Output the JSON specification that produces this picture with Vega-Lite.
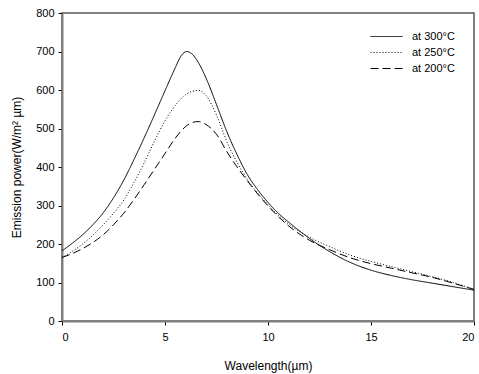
{
  "$schema": "https://vega.github.io/schema/vega-lite/v6.json",
  "width": 412,
  "height": 308,
  "autosize": "none",
  "padding": {"left": 62, "top": 13, "right": 5, "bottom": 53},
  "config": {
    "font": "Liberation Sans",
    "view": {"stroke": "#555555", "strokeWidth": 1.5},
    "axis": {"labelFont": "Liberation Sans", "titleFont": "Liberation Sans", "labelFontSize": 11, "titleFontSize": 12, "titleFontWeight": "normal", "labelColor": "#000000", "titleColor": "#000000", "domainColor": "#808080", "domainWidth": 2, "tickColor": "#000000", "tickSize": 4, "grid": false}
  },
  "data": {"values": [
    {"w": 0, "p": 182, "s": "at 300°C"}, {"w": 0.5, "p": 202, "s": "at 300°C"}, {"w": 1, "p": 224, "s": "at 300°C"}, {"w": 1.5, "p": 250, "s": "at 300°C"}, {"w": 2, "p": 281, "s": "at 300°C"}, {"w": 2.5, "p": 320, "s": "at 300°C"}, {"w": 3, "p": 366, "s": "at 300°C"}, {"w": 3.5, "p": 420, "s": "at 300°C"}, {"w": 4, "p": 477, "s": "at 300°C"}, {"w": 4.5, "p": 537, "s": "at 300°C"}, {"w": 5, "p": 598, "s": "at 300°C"}, {"w": 5.5, "p": 658, "s": "at 300°C"}, {"w": 5.8, "p": 690, "s": "at 300°C"}, {"w": 6.05, "p": 700, "s": "at 300°C"}, {"w": 6.3, "p": 694, "s": "at 300°C"}, {"w": 6.6, "p": 673, "s": "at 300°C"}, {"w": 7, "p": 630, "s": "at 300°C"}, {"w": 7.5, "p": 562, "s": "at 300°C"}, {"w": 8, "p": 492, "s": "at 300°C"}, {"w": 8.5, "p": 432, "s": "at 300°C"}, {"w": 9, "p": 380, "s": "at 300°C"}, {"w": 9.5, "p": 341, "s": "at 300°C"}, {"w": 10, "p": 308, "s": "at 300°C"}, {"w": 10.5, "p": 280, "s": "at 300°C"}, {"w": 11, "p": 257, "s": "at 300°C"}, {"w": 12, "p": 215, "s": "at 300°C"}, {"w": 13, "p": 180, "s": "at 300°C"}, {"w": 14, "p": 152, "s": "at 300°C"}, {"w": 15, "p": 132, "s": "at 300°C"}, {"w": 16, "p": 118, "s": "at 300°C"}, {"w": 17, "p": 107, "s": "at 300°C"}, {"w": 18, "p": 98, "s": "at 300°C"}, {"w": 19, "p": 89, "s": "at 300°C"}, {"w": 20, "p": 80, "s": "at 300°C"},
    {"w": 0, "p": 165, "s": "at 250°C"}, {"w": 0.5, "p": 181, "s": "at 250°C"}, {"w": 1, "p": 200, "s": "at 250°C"}, {"w": 1.5, "p": 223, "s": "at 250°C"}, {"w": 2, "p": 250, "s": "at 250°C"}, {"w": 2.5, "p": 280, "s": "at 250°C"}, {"w": 3, "p": 314, "s": "at 250°C"}, {"w": 3.5, "p": 360, "s": "at 250°C"}, {"w": 4, "p": 412, "s": "at 250°C"}, {"w": 4.5, "p": 468, "s": "at 250°C"}, {"w": 5, "p": 520, "s": "at 250°C"}, {"w": 5.5, "p": 560, "s": "at 250°C"}, {"w": 6, "p": 588, "s": "at 250°C"}, {"w": 6.35, "p": 597, "s": "at 250°C"}, {"w": 6.65, "p": 599, "s": "at 250°C"}, {"w": 7, "p": 585, "s": "at 250°C"}, {"w": 7.5, "p": 535, "s": "at 250°C"}, {"w": 8, "p": 466, "s": "at 250°C"}, {"w": 8.5, "p": 412, "s": "at 250°C"}, {"w": 9, "p": 367, "s": "at 250°C"}, {"w": 9.5, "p": 332, "s": "at 250°C"}, {"w": 10, "p": 302, "s": "at 250°C"}, {"w": 10.5, "p": 275, "s": "at 250°C"}, {"w": 11, "p": 252, "s": "at 250°C"}, {"w": 12, "p": 218, "s": "at 250°C"}, {"w": 13, "p": 193, "s": "at 250°C"}, {"w": 14, "p": 171, "s": "at 250°C"}, {"w": 15, "p": 155, "s": "at 250°C"}, {"w": 16, "p": 141, "s": "at 250°C"}, {"w": 17, "p": 128, "s": "at 250°C"}, {"w": 18, "p": 115, "s": "at 250°C"}, {"w": 19, "p": 100, "s": "at 250°C"}, {"w": 20, "p": 82, "s": "at 250°C"},
    {"w": 0, "p": 165, "s": "at 200°C"}, {"w": 0.5, "p": 175, "s": "at 200°C"}, {"w": 1, "p": 188, "s": "at 200°C"}, {"w": 1.5, "p": 204, "s": "at 200°C"}, {"w": 2, "p": 224, "s": "at 200°C"}, {"w": 2.5, "p": 250, "s": "at 200°C"}, {"w": 3, "p": 280, "s": "at 200°C"}, {"w": 3.5, "p": 316, "s": "at 200°C"}, {"w": 4, "p": 355, "s": "at 200°C"}, {"w": 4.5, "p": 395, "s": "at 200°C"}, {"w": 5, "p": 435, "s": "at 200°C"}, {"w": 5.5, "p": 475, "s": "at 200°C"}, {"w": 6, "p": 505, "s": "at 200°C"}, {"w": 6.3, "p": 515, "s": "at 200°C"}, {"w": 6.6, "p": 518, "s": "at 200°C"}, {"w": 7, "p": 510, "s": "at 200°C"}, {"w": 7.5, "p": 485, "s": "at 200°C"}, {"w": 8, "p": 440, "s": "at 200°C"}, {"w": 8.5, "p": 400, "s": "at 200°C"}, {"w": 9, "p": 364, "s": "at 200°C"}, {"w": 9.5, "p": 330, "s": "at 200°C"}, {"w": 10, "p": 299, "s": "at 200°C"}, {"w": 10.5, "p": 271, "s": "at 200°C"}, {"w": 11, "p": 247, "s": "at 200°C"}, {"w": 12, "p": 210, "s": "at 200°C"}, {"w": 13, "p": 185, "s": "at 200°C"}, {"w": 14, "p": 164, "s": "at 200°C"}, {"w": 15, "p": 149, "s": "at 200°C"}, {"w": 16, "p": 137, "s": "at 200°C"}, {"w": 17, "p": 125, "s": "at 200°C"}, {"w": 18, "p": 113, "s": "at 200°C"}, {"w": 19, "p": 98, "s": "at 200°C"}, {"w": 20, "p": 82, "s": "at 200°C"}
  ]},
  "mark": {"type": "line", "color": "#000000", "strokeWidth": 1, "interpolate": "monotone"},
  "encoding": {
    "x": {"field": "w", "type": "quantitative", "scale": {"domain": [0, 20], "nice": false}, "axis": {"values": [0, 5, 10, 15, 20], "title": "Wavelength(µm)", "titlePadding": 18, "labelPadding": 6}},
    "y": {"field": "p", "type": "quantitative", "scale": {"domain": [0, 800], "nice": false}, "axis": {"values": [0, 100, 200, 300, 400, 500, 600, 700, 800], "title": "Emission power(W/m² µm)", "titlePadding": 12, "labelPadding": 4}},
    "strokeDash": {"field": "s", "type": "nominal", "scale": {"domain": ["at 300°C", "at 250°C", "at 200°C"], "range": [[1, 0], [1, 2], [8, 4]]},
      "legend": {"title": null, "orient": "none", "legendX": 314, "legendY": 13, "labelFontSize": 11, "labelFont": "Liberation Sans", "symbolType": "M-1.6,0H1.6", "symbolSize": 400, "symbolStrokeColor": "#000000", "symbolStrokeWidth": 1, "rowPadding": 0, "labelOffset": 15}}
  }
}
